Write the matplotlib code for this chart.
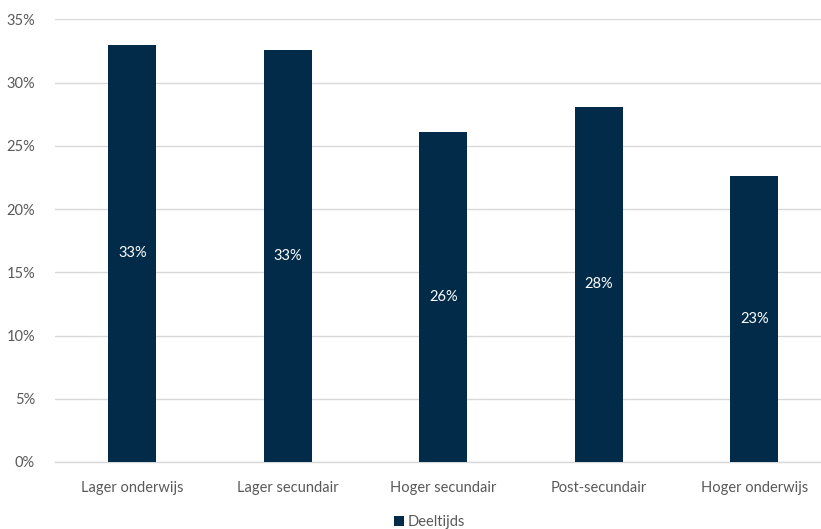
import matplotlib
matplotlib.use("Agg")
import matplotlib.pyplot as plt
from matplotlib.ticker import PercentFormatter, MultipleLocator
from matplotlib.patches import Patch

categories = ["Lager onderwijs", "Lager secundair", "Hoger secundair", "Post-secundair", "Hoger onderwijs"]
values = [33.0, 32.6, 26.1, 28.1, 22.6]
series_name = "Deeltijds"

bar_color = "#022b4a"
text_color = "#595959"
grid_color = "#d9d9d9"

plt.rcParams["font.family"] = ["Lato", "DejaVu Sans"]

fig = plt.figure(figsize=(8.21, 5.29), dpi=100)
ax = fig.add_axes([0.0664, 0.1267, 0.947, 0.8365])

x = range(len(categories))
bars = ax.bar(x, values, width=0.311, color=bar_color, zorder=3)
for rect, v in zip(bars, values):
    ax.text(rect.get_x() + rect.get_width() / 2, v / 2, f"{v:.0f}%",
            ha="center", va="center", color="white", fontsize=10.5, zorder=4)

ax.set_xlim(-0.5, len(categories) - 0.5)
ax.set_ylim(0, 35)
ax.yaxis.set_major_locator(MultipleLocator(5))
ax.yaxis.set_major_formatter(PercentFormatter(decimals=0))
ax.set_xticks(list(x))
ax.set_xticklabels(categories)
ax.grid(axis="y", color=grid_color, linewidth=1, zorder=0)
for s in ["top", "right", "left"]:
    ax.spines[s].set_visible(False)
ax.spines["bottom"].set_color(grid_color)
ax.spines["bottom"].set_linewidth(1)
ax.tick_params(axis="both", length=0, colors=text_color, labelsize=10.5)
ax.tick_params(axis="y", pad=14)
ax.tick_params(axis="x", pad=14)

handles = [Patch(facecolor=bar_color, label=series_name)]
fig.legend(handles=handles, loc="center", bbox_to_anchor=(0.523, 0.013), frameon=False,
           fontsize=10.5, labelcolor=text_color, handlelength=0.7, handleheight=0.7,
           handletextpad=0.2)

fig.savefig("out.png", dpi=100)
